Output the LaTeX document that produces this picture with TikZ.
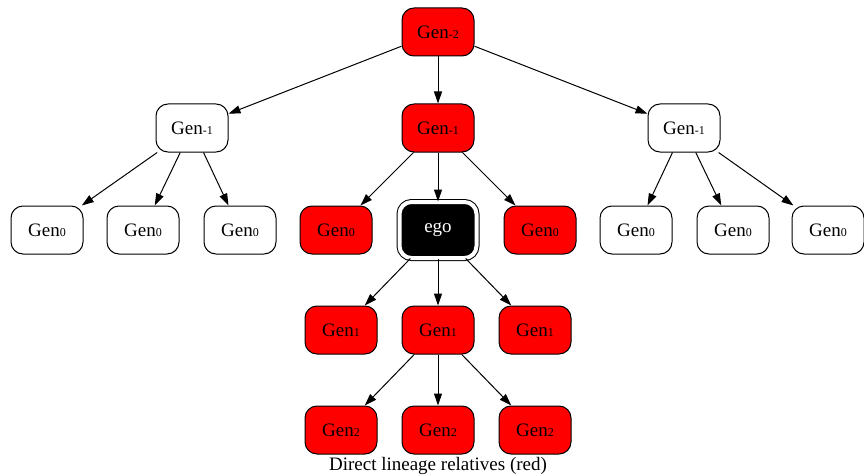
\documentclass[tikz,border=0pt]{standalone}
\usepackage{fontspec}
\setmainfont{Liberation Serif}
\usetikzlibrary{arrows.meta}
\newcommand{\lvl}[1]{{\fontsize{12}{14}\selectfont #1}}

\begin{document}
\begin{tikzpicture}[x=1pt,y=-1pt,line width=1pt,
  >={Triangle[length=12pt,width=8pt]},
  gen/.style={draw,rounded corners=12pt,minimum width=72pt,minimum height=48pt,
    inner sep=0pt,fill=white,font=\fontsize{19}{22}\selectfont},
  kin/.style={gen,fill=red},
  egobox/.style={gen,fill=black,text=white,double=white,double distance=4pt,
    minimum width=77pt,minimum height=56pt}]
\useasboundingbox (0,0) rectangle (864,476);
% red nodes are the direct line, white ones the side branches

\node[kin] (top) at (438,32) {Gen\lvl{-2}};

\node[gen] (gl) at (192,128) {Gen\lvl{-1}};
\node[kin] (gm) at (438,128) {Gen\lvl{-1}};
\node[gen] (gr) at (684,128) {Gen\lvl{-1}};

\node[gen] (l1) at (47,230) {Gen\lvl{0}};
\node[gen] (l2) at (143,230) {Gen\lvl{0}};
\node[gen] (l3) at (240,230) {Gen\lvl{0}};
\node[kin] (m1) at (336,230) {Gen\lvl{0}};
\node[egobox] (ego) at (438,230) {ego};
\node[kin] (m2) at (540,230) {Gen\lvl{0}};
\node[gen] (r1) at (636,230) {Gen\lvl{0}};
\node[gen] (r2) at (733,230) {Gen\lvl{0}};
\node[gen] (r3) at (828,230) {Gen\lvl{0}};

\node[kin] (c1) at (341,330) {Gen\lvl{1}};
\node[kin] (c2) at (438,330) {Gen\lvl{1}};
\node[kin] (c3) at (535,330) {Gen\lvl{1}};

\node[kin] (g1) at (341,430) {Gen\lvl{2}};
\node[kin] (g2) at (438,430) {Gen\lvl{2}};
\node[kin] (g3) at (535,430) {Gen\lvl{2}};

\node[font=\fontsize{19}{22}\selectfont] (cap) at (438,466) {Direct lineage relatives (red)};

\draw [->] (top) -- (gl);
\draw [->] (top) -- (gm);
\draw [->] (top) -- (gr);

\draw [->] (gl) -- (l1);
\draw [->] (gl) -- (l2);
\draw [->] (gl) -- (l3);
\draw [->] (gm) -- (m1);
\draw [->] (gm) -- (ego);
\draw [->] (gm) -- (m2);
\draw [->] (gr) -- (r1);
\draw [->] (gr) -- (r2);
\draw [->] (gr) -- (r3);

\draw [->] (ego) -- (c1);
\draw [->] (ego) -- (c2);
\draw [->] (ego) -- (c3);

\draw [->] (c2) -- (g1);
\draw [->] (c2) -- (g2);
\draw [->] (c2) -- (g3);
\end{tikzpicture}
\end{document}
